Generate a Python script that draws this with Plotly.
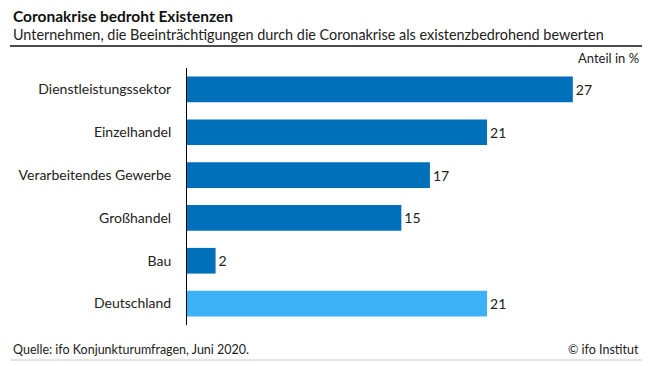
import plotly.graph_objects as go

categories = ["Dienstleistungssektor", "Einzelhandel", "Verarbeitendes Gewerbe", "Großhandel", "Bau", "Deutschland"]
values = [27, 21, 17, 15, 2, 21]
colors = ["#0070BA", "#0070BA", "#0070BA", "#0070BA", "#0070BA", "#3DB1F5"]

title = "Coronakrise bedroht Existenzen"
subtitle = "Unternehmen, die Beeinträchtigungen durch die Coronakrise als existenzbedrohend bewerten"
unit = "Anteil in %"
source = "Quelle: ifo Konjunkturumfragen, Juni 2020."
copyright_ = "© ifo Institut"

FONT = "Lato"

# the page body adds an 8px offset; compensate
OFF = 8
W, H = 665 - OFF, 366 - OFF
pl, pr, pt, pb = 187 - OFF, 25, 68 - OFF, 41
pw, ph = W - pl - pr, H - pt - pb
def px(x): return (x - OFF - pl) / pw
def py(y): return (H - pb - (y - OFF)) / ph

fig = go.Figure(go.Bar(
    x=values, y=categories, orientation="h",
    marker=dict(color=colors, line=dict(width=0)),
    text=[str(v) for v in values], textposition="outside",
    textfont=dict(family=FONT, size=14, color="#222"),
    cliponaxis=False, width=0.6,
))

fig.update_layout(
    width=W, height=H,
    margin=dict(l=pl, r=pr, t=pt, b=pb, autoexpand=False),
    paper_bgcolor="white", plot_bgcolor="white",
    font=dict(family=FONT, size=14, color="#222"),
    showlegend=False,
    xaxis=dict(range=[0, 31.7], showgrid=False, zeroline=False, showticklabels=False, showline=False),
    yaxis=dict(autorange=False, range=[5.5, -0.5], showgrid=False, zeroline=False,
               showline=True, linecolor="#000", linewidth=1, ticks="",
               ticklabelstandoff=12, tickfont=dict(family=FONT, size=14, color="#222")),
)

anns = [
    dict(text="<b>" + title + "</b>", x=px(11), y=py(16), xanchor="left", yanchor="middle", font=dict(size=15.5, color="#111")),
    dict(text=subtitle, x=px(11), y=py(34.5), xanchor="left", yanchor="middle", font=dict(size=14.4, color="#222")),
    dict(text=unit, x=px(641), y=py(58), xanchor="right", yanchor="middle", font=dict(size=13, color="#222")),
    dict(text=source, x=px(11), y=py(349), xanchor="left", yanchor="middle", font=dict(size=12.5, color="#222")),
    dict(text=copyright_, x=px(641), y=py(349), xanchor="right", yanchor="middle", font=dict(size=12.5, color="#222")),
]
for a in anns:
    a.update(xref="paper", yref="paper", showarrow=False)
    a["font"]["family"] = FONT
fig.layout.annotations = anns

fig.add_shape(type="line", xref="paper", yref="paper", x0=px(10), x1=px(642), y0=py(46), y1=py(46),
              line=dict(color="#111", width=1.5))
fig.add_shape(type="line", xref="paper", yref="paper", x0=px(10), x1=px(642), y0=py(360), y1=py(360),
              line=dict(color="#ccc", width=1))

fig.write_html("out.html")
